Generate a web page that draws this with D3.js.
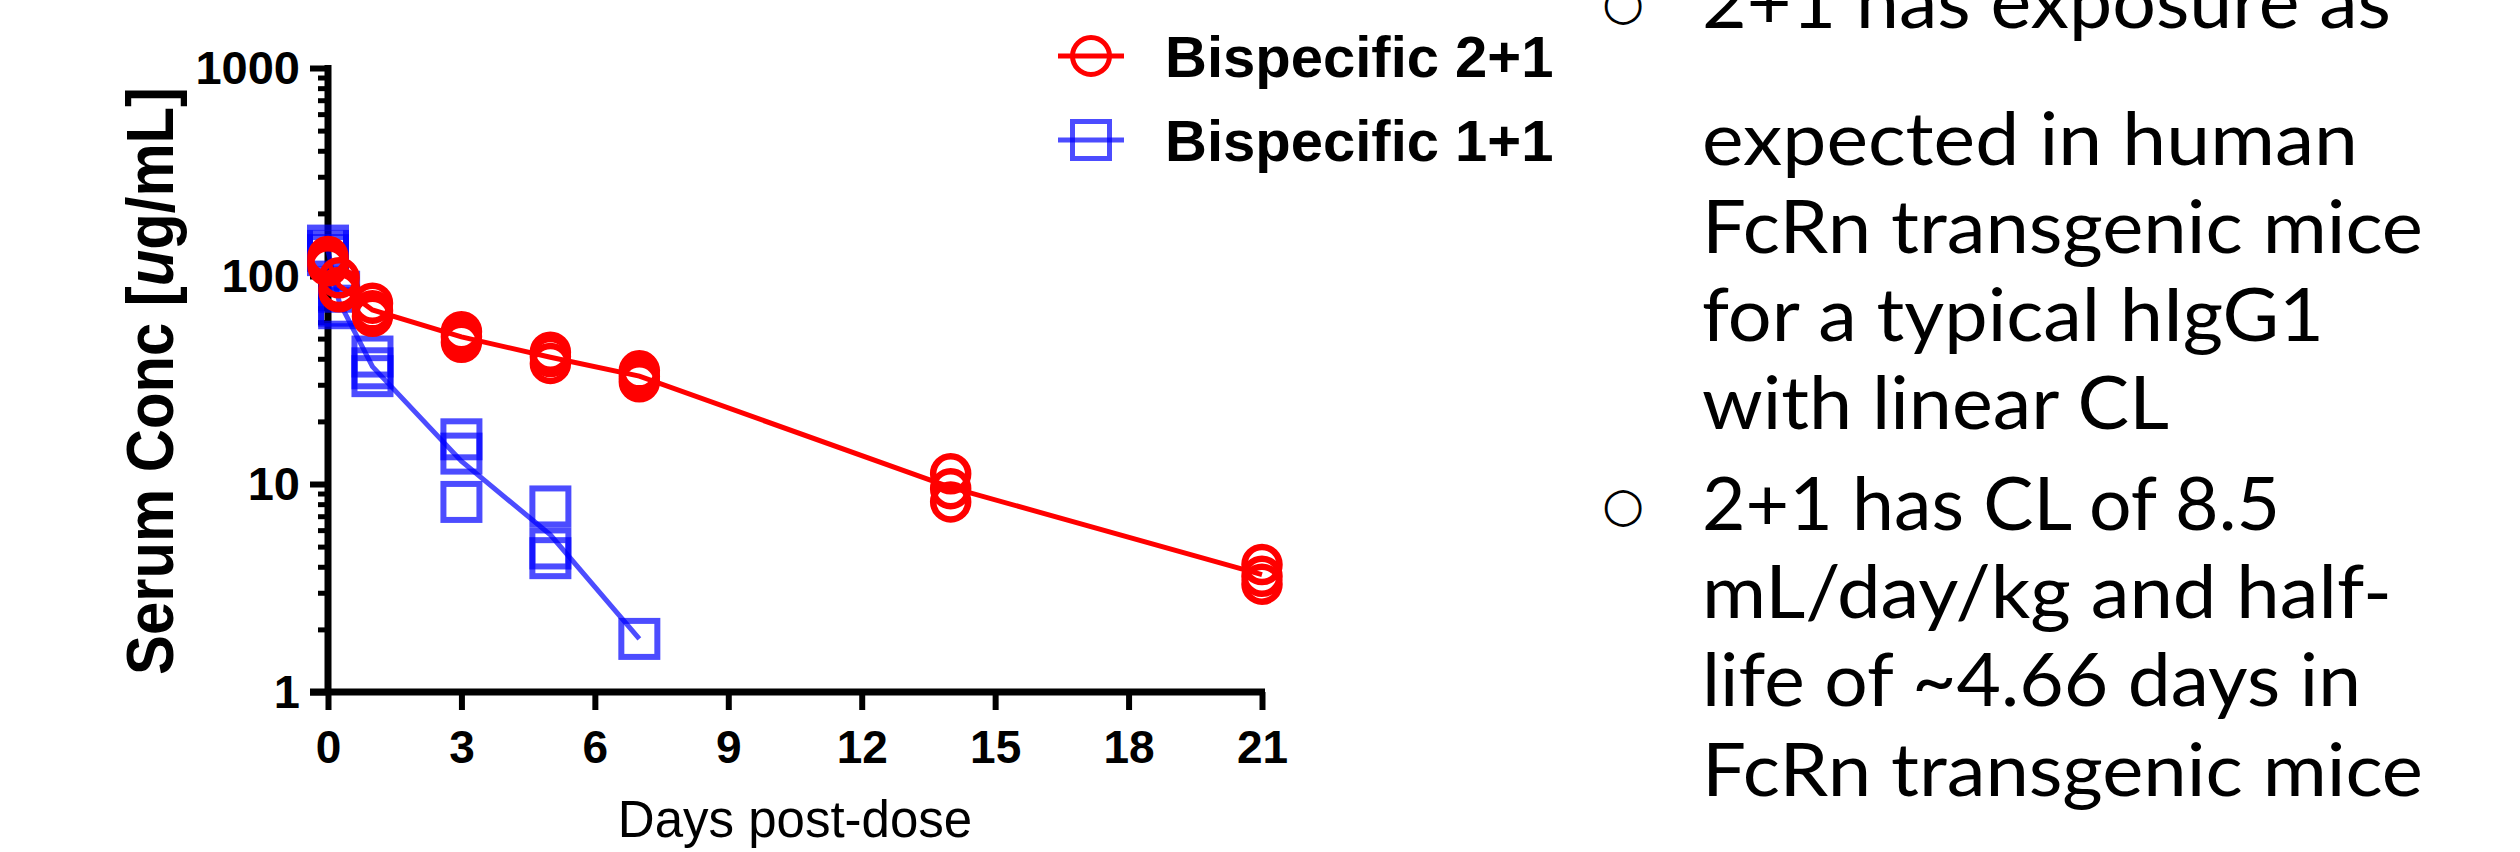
<!DOCTYPE html>
<html>
<head>
<meta charset="utf-8">
<script src="https://cdn.jsdelivr.net/npm/d3@7"></script>
<style>
  html, body { margin: 0; padding: 0; background: #fff; }
  svg { display: block; }
</style>
</head>
<body>
<div id="chart"></div>
<script>
// sampling days and replicate serum concentrations (ug/mL)
const days21 = [0, 0.25, 1, 3, 5, 7, 14, 21];
const conc21 = [
  [124, 117, 112],
  [98, 88, 84],
  [74, 68, 64],
  [54, 51, 48],
  [43, 41, 38],
  [35, 33, 31],
  [11.2, 9.5, 8.2],
  [4.1, 3.6, 3.3]
];
const days11 = [0, 0.25, 1, 3, 5, 7];
const conc11 = [
  [140, 132, 126],
  [84, 72, 70],
  [41, 36, 33],
  [16.4, 14, 8.2],
  [7.8, 4.9, 4.4],
  [1.8]
];
const seriesNames = ["Bispecific 2+1", "Bispecific 1+1"];
const xTicks = [0, 3, 6, 9, 12, 15, 18, 21];
const yTicks = [1, 10, 100, 1000];

const noteLines = [
  "2+1 has exposure as",
  "expected in human",
  "FcRn transgenic mice",
  "for a typical hIgG1",
  "with linear CL",
  "2+1 has CL of 8.5",
  "mL/day/kg and half-",
  "life of ~4.66 days in",
  "FcRn transgenic mice"
];
const noteBullets = [true, false, false, false, false, true, false, false, false];

const W = 2520, H = 852;
const RED = "#ff0000", BLUE = "#0000ff";
const ARIAL = "'Liberation Sans', Arial, sans-serif";
const svg = d3.select("#chart").append("svg")
  .attr("width", W)
  .attr("height", H);

const x = d3.scaleLinear().domain([0, 21]).range([328, 1262]);
const y = d3.scaleLog().domain([1, 1000]).range([692, 68]);

// axes (Prism style: thick lines, offset ticks)
const yMinor = y.ticks().filter(v => !yTicks.includes(v));

const gyMinor = svg.append("g")
  .attr("transform", `translate(${x(0)},0)`)
  .call(d3.axisLeft(y).tickValues(yMinor).tickSize(10).tickFormat(""));
gyMinor.select(".domain").remove();
gyMinor.selectAll(".tick line").attr("stroke", "#000").attr("stroke-width", 5);

const gy = svg.append("g")
  .attr("transform", `translate(${x(0)},0)`)
  .call(d3.axisLeft(y).tickValues(yTicks).tickSize(18).tickPadding(10).tickFormat(d3.format("d")));
gy.select(".domain").remove();
gy.selectAll(".tick line").attr("stroke", "#000").attr("stroke-width", 6);
gy.selectAll(".tick text")
  .attr("font-family", ARIAL)
  .attr("font-weight", "bold")
  .attr("font-size", 47)
  .attr("fill", "#000");

const gx = svg.append("g")
  .attr("transform", `translate(0,${y(1)})`)
  .call(d3.axisBottom(x).tickValues(xTicks).tickSize(18).tickPadding(20));
gx.select(".domain").remove();
gx.selectAll(".tick line").attr("stroke", "#000").attr("stroke-width", 6);
gx.selectAll(".tick text")
  .attr("font-family", ARIAL)
  .attr("font-weight", "bold")
  .attr("font-size", 46)
  .attr("fill", "#000");

svg.append("line")
  .attr("x1", x(0)).attr("x2", x(0))
  .attr("y1", y(1000) - 3).attr("y2", y(1) + 3)
  .attr("stroke", "#000").attr("stroke-width", 7);
svg.append("line")
  .attr("x1", x(0) - 18).attr("x2", x(21) + 3)
  .attr("y1", y(1)).attr("y2", y(1))
  .attr("stroke", "#000").attr("stroke-width", 7);

// axis titles
svg.append("text")
  .attr("x", (x(0) + x(21)) / 2)
  .attr("y", 837)
  .attr("text-anchor", "middle")
  .attr("font-family", ARIAL)
  .attr("font-size", 51)
  .text("Days post-dose");

const yTitle = svg.append("text")
  .attr("transform", "translate(173,381) rotate(-90)")
  .attr("text-anchor", "middle")
  .attr("font-family", ARIAL)
  .attr("font-weight", "bold")
  .attr("font-size", 67)
  .attr("textLength", 588)
  .attr("lengthAdjust", "spacingAndGlyphs");
yTitle.append("tspan").text("Serum Conc [");
yTitle.append("tspan").attr("font-style", "italic").text("u");
yTitle.append("tspan").text("g/mL]");

// series: line through the mean of the replicates at each day
const line = d3.line()
  .x(d => x(d[0]))
  .y(d => y(d3.mean(d[1])));

// 1+1 (blue, translucent) drawn first, 2+1 on top
svg.append("path")
  .datum(days11.map((d, i) => [d, conc11[i]]))
  .attr("d", line)
  .attr("fill", "none")
  .attr("stroke", BLUE)
  .attr("stroke-opacity", 0.7)
  .attr("stroke-width", 5);

const pts11 = days11.flatMap((d, i) => conc11[i].map(v => [d, v]));
const sq = 36;
svg.append("g").selectAll("rect")
  .data(pts11)
  .join("rect")
  .attr("x", d => x(d[0]) - sq / 2)
  .attr("y", d => y(d[1]) - sq / 2)
  .attr("width", sq)
  .attr("height", sq)
  .attr("fill", "none")
  .attr("stroke", BLUE)
  .attr("stroke-opacity", 0.7)
  .attr("stroke-width", 6);

svg.append("path")
  .datum(days21.map((d, i) => [d, conc21[i]]))
  .attr("d", line)
  .attr("fill", "none")
  .attr("stroke", RED)
  .attr("stroke-width", 5);

const pts21 = days21.flatMap((d, i) => conc21[i].map(v => [d, v]));
svg.append("g").selectAll("circle")
  .data(pts21)
  .join("circle")
  .attr("cx", d => x(d[0]))
  .attr("cy", d => y(d[1]))
  .attr("r", 17.5)
  .attr("fill", "none")
  .attr("stroke", RED)
  .attr("stroke-width", 6.5);

// legend
const legend = svg.append("g").attr("transform", "translate(1091,0)");
const legRows = [56, 140];
legRows.forEach((ly, i) => {
  const col = i === 0 ? RED : BLUE;
  const op = i === 0 ? 1 : 0.7;
  legend.append("line")
    .attr("x1", -33).attr("x2", 33)
    .attr("y1", ly).attr("y2", ly)
    .attr("stroke", col).attr("stroke-opacity", op).attr("stroke-width", 5);
  if (i === 0) {
    legend.append("circle")
      .attr("cx", 0).attr("cy", ly).attr("r", 18.5)
      .attr("fill", "none").attr("stroke", col).attr("stroke-width", 5);
  } else {
    legend.append("rect")
      .attr("x", -18.5).attr("y", ly - 18.5).attr("width", 37).attr("height", 37)
      .attr("fill", "none").attr("stroke", col).attr("stroke-opacity", op).attr("stroke-width", 5);
  }
  legend.append("text")
    .attr("x", 74)
    .attr("y", ly + 21)
    .attr("font-family", ARIAL)
    .attr("font-weight", "bold")
    .attr("font-size", 58)
    .text(seriesNames[i]);
});

// bullet notes on the right (Calibri-like text, fitted to the slide's line widths)
const noteFit = [689, 656, 721, 622, 467, 578, 690, 659, 721];
const noteY = [28, 165, 253, 341, 429, 530, 618, 706, 796];
const notes = svg.append("g");
noteLines.forEach((t, i) => {
  notes.append("text")
    .attr("x", 1702)
    .attr("y", noteY[i])
    .attr("font-family", "Lato, 'Open Sans', sans-serif")
    .attr("font-size", 74)
    .attr("textLength", noteFit[i])
    .attr("lengthAdjust", "spacingAndGlyphs")
    .attr("fill", "#000")
    .text(t);
  if (noteBullets[i]) {
    notes.append("text")
      .attr("x", 1623)
      .attr("y", noteY[i] - 9)
      .attr("text-anchor", "middle")
      .attr("font-family", "'DejaVu Sans', sans-serif")
      .attr("font-size", 48)
      .text("\u25CB");
  }
});
</script>
</body>
</html>
